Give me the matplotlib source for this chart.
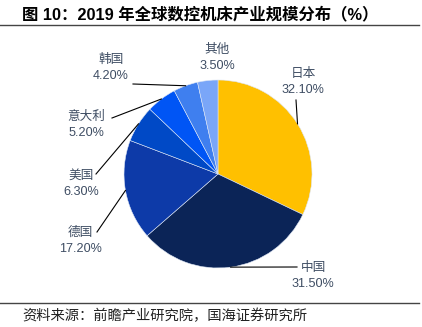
import matplotlib
matplotlib.use("Agg")
import matplotlib.pyplot as plt
import numpy as np

plt.rcParams['font.family'] = ['Liberation Sans', 'Noto Sans CJK SC', 'DejaVu Sans']

categories = ['日本', '中国', '德国', '美国', '意大利', '韩国', '其他']
values = [32.10, 31.50, 17.20, 6.30, 5.20, 4.20, 3.50]
colors = ['#FFC000', '#0B2457', '#0D3AA8', '#0049C6', '#0055F5', '#3F7FEF', '#7AA6F8']
title = '图 10：2019 年全球数控机床产业规模分布（%）'
source = '资料来源：前瞻产业研究院，国海证券研究所'

W, H = 422, 327
fig = plt.figure(figsize=(W / 100, H / 100), dpi=100)
ax = fig.add_axes([0, 0, 1, 1])
ax.set_xlim(0, W)
ax.set_ylim(0, H)
ax.set_aspect('equal')
ax.axis('off')

cx, cy, r = 218, H - 174, 94
wedges, _ = ax.pie(values, colors=colors, startangle=90, counterclock=False,
                   center=(cx, cy), radius=r, frame=True,
                   wedgeprops=dict(linewidth=0.4, edgecolor='#DDE6F5'))
ax.set_xlim(0, W)
ax.set_ylim(0, H)
ax.axis('off')

label_pos = {
    '日本': (303, 82),
    '中国': (313, 276),
    '德国': (80, 241),
    '美国': (81, 184),
    '意大利': (86, 125),
    '韩国': (111, 68),
    '其他': (217, 58),
}
line_start = {
    '日本': (296, 100),
    '中国': (297, 267),
    '德国': (97, 232),
    '美国': (96, 174),
    '意大利': (112, 118),
    '韩国': (133, 84),
}
txt_color = '#3E4D63'
for w, cat, v in zip(wedges, categories, values):
    tx, ty = label_pos[cat]
    ax.text(tx, H - ty, f'{cat}\n{v:.2f}%', ha='center', va='center',
            fontsize=9.1, color=txt_color, linespacing=1.4)
    if cat in line_start:
        ang = np.deg2rad((w.theta1 + w.theta2) / 2)
        ex, ey = cx + r * np.cos(ang), cy + r * np.sin(ang)
        sx, sy = line_start[cat]
        ax.plot([sx, ex], [H - sy, ey], color='black', lw=0.8)

fig.text(22 / W, 1 - 14 / H, title, fontsize=11.8, fontweight='bold',
         ha='left', va='center', color='black',
         family=['Liberation Sans', 'Noto Sans CJK SC'])
fig.add_artist(plt.Line2D([0, 419 / W], [1 - 25 / H, 1 - 25 / H],
                          transform=fig.transFigure, color='#444444', lw=1.0))
fig.add_artist(plt.Line2D([0, 419 / W], [1 - 303 / H, 1 - 303 / H],
                          transform=fig.transFigure, color='#444444', lw=1.0))
fig.text(22 / W, 1 - 316 / H, source, fontsize=10.3, ha='left', va='center',
         color='#222222', family=['Noto Sans CJK SC'], fontweight='light')

fig.savefig('out.png', dpi=100)
